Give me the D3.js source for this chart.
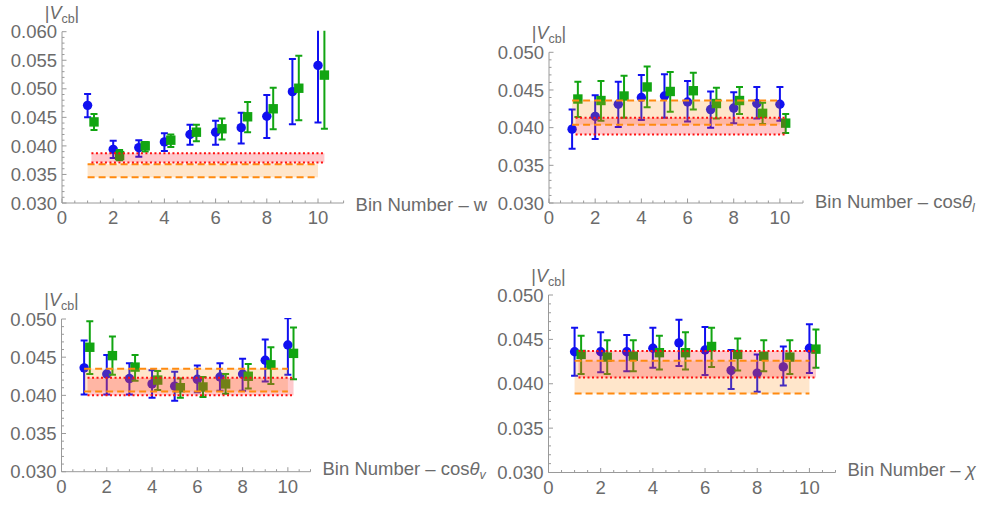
<!DOCTYPE html>
<html>
<head>
<meta charset="utf-8">
<script src="https://cdn.jsdelivr.net/npm/d3@7"></script>
<style>
  html, body { margin: 0; padding: 0; background: #fff; }
  svg { display: block; }
  text { font-family: "Liberation Sans", Arial, sans-serif; }
</style>
</head>
<body>
<svg id="chart" width="981" height="505"></svg>
<script>
// ---------------- DATA ----------------
const bins = [1, 2, 3, 4, 5, 6, 7, 8, 9, 10];

// Panel: w
const blueW    = [0.0471, 0.0394, 0.0397, 0.0407, 0.0420, 0.0424, 0.0432, 0.0452, 0.0495, 0.0541];
const blueWLo  = [0.0450, 0.0379, 0.0381, 0.0391, 0.0402, 0.0402, 0.0404, 0.0414, 0.0438, 0.0441];
const blueWHi  = [0.0491, 0.0409, 0.0410, 0.0422, 0.0437, 0.0444, 0.0458, 0.0489, 0.0552, 0.0641];
const greenW   = [0.0442, 0.0383, 0.0400, 0.0410, 0.0424, 0.0430, 0.0451, 0.0465, 0.0501, 0.0524];
const greenWLo = [0.0428, 0.0375, 0.0390, 0.0398, 0.0408, 0.0411, 0.0424, 0.0429, 0.0445, 0.0430];
const greenWHi = [0.0456, 0.0393, 0.0407, 0.0420, 0.0437, 0.0448, 0.0477, 0.0502, 0.0558, 0.0618];
const redBandW = [0.0371, 0.0387];
const orangeBandW = [0.0345, 0.0368];

// Panel: cos theta_l
const blueL    = [0.0398, 0.0415, 0.0431, 0.0440, 0.0442, 0.0434, 0.0424, 0.0426, 0.0432, 0.0431];
const blueLLo  = [0.0372, 0.0385, 0.0401, 0.0410, 0.0413, 0.0408, 0.0400, 0.0406, 0.0412, 0.0409];
const blueLHi  = [0.0424, 0.0443, 0.0461, 0.0470, 0.0471, 0.0462, 0.0448, 0.0447, 0.0454, 0.0454];
const greenL   = [0.0438, 0.0436, 0.0442, 0.0454, 0.0448, 0.0449, 0.0432, 0.0436, 0.0419, 0.0406];
const greenLLo = [0.0414, 0.0409, 0.0413, 0.0427, 0.0421, 0.0424, 0.0412, 0.0418, 0.0405, 0.0393];
const greenLHi = [0.0461, 0.0462, 0.0469, 0.0481, 0.0474, 0.0473, 0.0453, 0.0454, 0.0433, 0.0418];
const redBandL = [0.0391, 0.0413];
const orangeBandL = [0.0404, 0.0436];

// Panel: cos theta_v
const blueV    = [0.0436, 0.0428, 0.0422, 0.0415, 0.0412, 0.0421, 0.0424, 0.0428, 0.0446, 0.0466];
const blueVLo  = [0.0401, 0.0401, 0.0401, 0.0397, 0.0393, 0.0404, 0.0406, 0.0406, 0.0418, 0.0427];
const blueVHi  = [0.0472, 0.0453, 0.0442, 0.0433, 0.0431, 0.0439, 0.0442, 0.0448, 0.0473, 0.0501];
const greenV   = [0.0463, 0.0452, 0.0437, 0.0420, 0.0410, 0.0411, 0.0415, 0.0425, 0.0440, 0.0455];
const greenVLo = [0.0428, 0.0427, 0.0419, 0.0407, 0.0397, 0.0398, 0.0402, 0.0409, 0.0415, 0.0421];
const greenVHi = [0.0497, 0.0477, 0.0453, 0.0432, 0.0422, 0.0424, 0.0428, 0.0441, 0.0463, 0.0489];
const redBandV = [0.0400, 0.0423];
const orangeBandV = [0.0405, 0.0435];

// Panel: chi
const blueX    = [0.0436, 0.0436, 0.0436, 0.0440, 0.0446, 0.0438, 0.0415, 0.0412, 0.0419, 0.0440];
const blueXLo  = [0.0409, 0.0413, 0.0414, 0.0418, 0.0420, 0.0410, 0.0394, 0.0391, 0.0398, 0.0412];
const blueXHi  = [0.0463, 0.0458, 0.0455, 0.0463, 0.0472, 0.0464, 0.0438, 0.0433, 0.0442, 0.0467];
const greenX   = [0.0433, 0.0430, 0.0431, 0.0435, 0.0435, 0.0442, 0.0433, 0.0431, 0.0430, 0.0439];
const greenXLo = [0.0411, 0.0411, 0.0414, 0.0416, 0.0416, 0.0419, 0.0415, 0.0414, 0.0411, 0.0418];
const greenXHi = [0.0454, 0.0449, 0.0449, 0.0454, 0.0458, 0.0463, 0.0451, 0.0449, 0.0449, 0.0461];
const redBandX = [0.0407, 0.0437];
const orangeBandX = [0.0389, 0.0426];

const xTickValues = [0, 2, 4, 6, 8, 10];
const yTicksTall = [0.030, 0.035, 0.040, 0.045, 0.050, 0.055, 0.060];
const yTicksShort = [0.030, 0.035, 0.040, 0.045, 0.050];

// ---------------- DRAW ----------------
const svg = d3.select("#chart");
const AXIS = "#9a9a9a", LABEL = "#6b6b6b";
const BLUE = "#1010f0", GREEN = "#12a512";
const greenShift = 0.25;

const panels = [
  { frame: {l: 62, t: 31.7, r: 343.6, b: 203}, ymax: 0.060, yt: yTicksTall, lab: "w", ldy: 8,
    blue: [blueW, blueWLo, blueWHi], green: [greenW, greenWLo, greenWHi], red: redBandW, orange: orangeBandW },
  { frame: {l: 549, t: 52.3, r: 803, b: 203}, ymax: 0.050, yt: yTicksShort, lab: "l", ldy: 4.5,
    blue: [blueL, blueLLo, blueLHi], green: [greenL, greenLLo, greenLHi], red: redBandL, orange: orangeBandL },
  { frame: {l: 61.5, t: 319, r: 310.5, b: 471.7}, ymax: 0.050, yt: yTicksShort, lab: "v", ldy: 3,
    blue: [blueV, blueVLo, blueVHi], green: [greenV, greenVLo, greenVHi], red: redBandV, orange: orangeBandV },
  { frame: {l: 548.5, t: 295, r: 835.5, b: 472.5}, ymax: 0.050, yt: yTicksShort, lab: "chi", ldy: 3,
    blue: [blueX, blueXLo, blueXHi], green: [greenX, greenXLo, greenXHi], red: redBandX, orange: orangeBandX }
];

panels.forEach((p, pi) => {
  const f = p.frame;
  const x = d3.scaleLinear().domain([0, 11]).range([f.l, f.r]);
  const y = d3.scaleLinear().domain([0.030, p.ymax]).range([f.b, f.t]);
  const g = svg.append("g");

  const clipId = "clip" + pi;
  svg.append("clipPath").attr("id", clipId).append("rect")
    .attr("x", f.l).attr("y", f.t - 1).attr("width", f.r - f.l).attr("height", f.b - f.t + 1);

  // axes (inward ticks, gray)
  const yMinor = d3.range(0.030, p.ymax + 1e-9, 0.001);
  const xMinor = d3.range(0, 11.01, 0.5);
  const ax = g.append("g").attr("stroke", AXIS).attr("stroke-width", 1).attr("fill", "none");
  ax.append("line").attr("x1", f.l).attr("x2", f.r).attr("y1", f.b).attr("y2", f.b);
  ax.append("line").attr("x1", f.l).attr("x2", f.l).attr("y1", f.b).attr("y2", f.t);
  ax.selectAll(".ym").data(yMinor).join("line")
    .attr("x1", f.l).attr("x2", (d, i) => f.l + (i % 5 === 0 ? 4.5 : 2.5))
    .attr("y1", d => y(d)).attr("y2", d => y(d));
  ax.selectAll(".xm").data(xMinor).join("line")
    .attr("y1", f.b).attr("y2", (d, i) => f.b - (i % 4 === 0 ? 4.5 : 2.5))
    .attr("x1", d => x(d)).attr("x2", d => x(d));

  // tick labels
  g.selectAll(".yl").data(p.yt).join("text")
    .attr("x", f.l - 5).attr("y", d => y(d)).attr("dy", "0.36em")
    .attr("text-anchor", "end").attr("font-size", 18.5).attr("fill", LABEL)
    .text(d => d3.format(".3f")(d));
  g.selectAll(".xl").data(xTickValues).join("text")
    .attr("x", d => x(d)).attr("y", f.b + 21)
    .attr("text-anchor", "middle").attr("font-size", 18.5).attr("fill", LABEL)
    .text(d => d);

  // y label |V_cb|
  const yl = g.append("text").attr("x", f.l).attr("y", f.t - 13)
    .attr("text-anchor", "middle").attr("font-size", 18).attr("fill", LABEL);
  yl.append("tspan").text("|");
  yl.append("tspan").attr("font-style", "italic").text("V");
  yl.append("tspan").attr("font-size", 12.5).attr("dy", 4).text("cb");
  yl.append("tspan").attr("dy", -4).text("|");

  // x label
  const xl = g.append("text").attr("x", f.r + 12).attr("y", f.b + p.ldy)
    .attr("font-size", 18.5).attr("fill", LABEL);
  if (p.lab === "w") {
    xl.text("Bin Number \u2013 w");
  } else if (p.lab === "chi") {
    xl.append("tspan").text("Bin Number \u2013 ");
    xl.append("tspan").attr("font-style", "italic").text("\u03C7");
  } else {
    xl.append("tspan").text("Bin Number \u2013 cos");
    xl.append("tspan").attr("font-style", "italic").text("\u03B8");
    xl.append("tspan").attr("font-style", "italic").attr("font-size", 12.5).attr("dy", 4).text(p.lab);
  }

  // data
  const dg = g.append("g").attr("clip-path", `url(#${clipId})`);
  const series = [
    { vals: p.blue, color: BLUE, shift: 0, shape: "circle" },
    { vals: p.green, color: GREEN, shift: greenShift, shape: "square" }
  ];
  series.forEach(s => {
    const rows = bins.map((b, i) => ({ b: b + s.shift, v: s.vals[0][i], lo: s.vals[1][i], hi: s.vals[2][i] }));
    const sg = dg.append("g");
    sg.selectAll(".eb").data(rows).join("line")
      .attr("x1", d => x(d.b)).attr("x2", d => x(d.b))
      .attr("y1", d => y(d.lo)).attr("y2", d => y(d.hi))
      .attr("stroke", s.color).attr("stroke-width", 2);
    ["lo", "hi"].forEach(k => {
      sg.selectAll(".cap" + k).data(rows).join("line")
        .attr("x1", d => x(d.b) - 3.5).attr("x2", d => x(d.b) + 3.5)
        .attr("y1", d => y(d[k])).attr("y2", d => y(d[k]))
        .attr("stroke", s.color).attr("stroke-width", 2);
    });
    if (s.shape === "circle") {
      sg.selectAll(".pt").data(rows).join("circle")
        .attr("cx", d => x(d.b)).attr("cy", d => y(d.v)).attr("r", 4.7)
        .attr("fill", s.color);
    } else {
      sg.selectAll(".pt").data(rows).join("rect")
        .attr("x", d => x(d.b) - 4.7).attr("y", d => y(d.v) - 4.7)
        .attr("width", 9.4).attr("height", 9.4).attr("fill", s.color);
    }
  });

  // bands drawn over points (semi-transparent)
  const ox = [1, 10], rx = [1.15, 10.25];
  dg.append("rect")
    .attr("x", x(ox[0])).attr("width", x(ox[1]) - x(ox[0]))
    .attr("y", y(p.orange[1])).attr("height", y(p.orange[0]) - y(p.orange[1]))
    .attr("fill", "rgb(255,140,20)").attr("fill-opacity", 0.22);
  dg.append("rect")
    .attr("x", x(rx[0])).attr("width", x(rx[1]) - x(rx[0]))
    .attr("y", y(p.red[1])).attr("height", y(p.red[0]) - y(p.red[1]))
    .attr("fill", "rgb(255,30,40)").attr("fill-opacity", 0.24);
  p.orange.forEach(v => {
    dg.append("line").attr("x1", x(ox[0])).attr("x2", x(ox[1]))
      .attr("y1", y(v)).attr("y2", y(v))
      .attr("stroke", "#ff8a10").attr("stroke-width", 2).attr("stroke-dasharray", "7,4");
  });
  p.red.forEach(v => {
    dg.append("line").attr("x1", x(rx[0])).attr("x2", x(rx[1]))
      .attr("y1", y(v)).attr("y2", y(v))
      .attr("stroke", "#ff1010").attr("stroke-width", 2).attr("stroke-dasharray", "2,2.5");
  });
});
</script>
</body>
</html>
